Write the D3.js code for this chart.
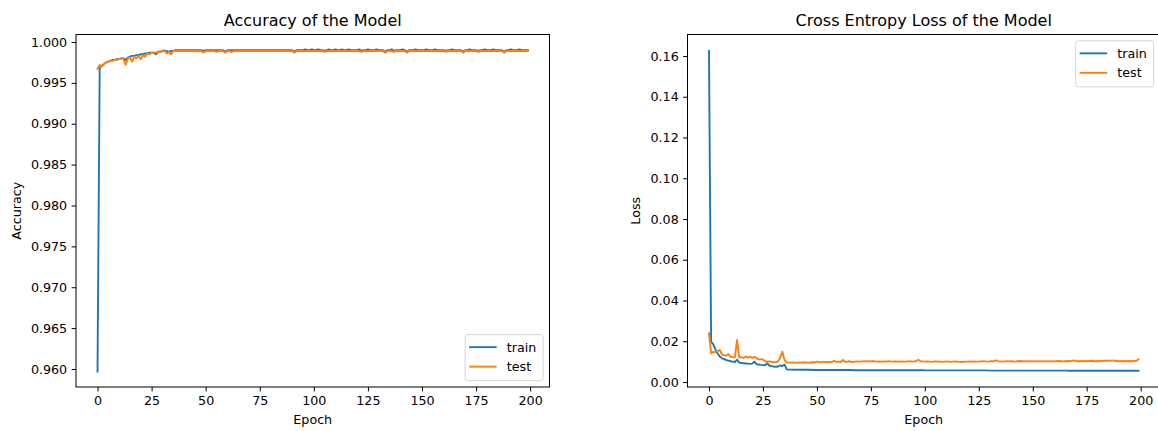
<!DOCTYPE html>
<html>
<head>
<meta charset="utf-8">
<script src="https://cdn.jsdelivr.net/npm/d3@7"></script>
<style>
  body { margin: 0; background: #fff; }
  svg text { font-family: "DejaVu Sans", sans-serif; fill: #000; }
  .axis text { font-size: 12.7px; }
  .axis line { stroke: #000; stroke-width: 1; }
  .axis path.domain { display: none; }
</style>
</head>
<body>
<div id="chart"></div>
<script>
// epochs 0..199 (x)
const epochs = d3.range(200);

// accuracy per epoch
const trainAcc = [
  0.9597, 0.9969, 0.9971, 0.9973, 0.9975, 0.9976, 0.9977, 0.9978, 0.9978, 0.9979,
  0.9979, 0.9980, 0.9980, 0.9978, 0.9981, 0.9982, 0.9983, 0.9983, 0.9984, 0.9984,
  0.9985, 0.9985, 0.9986, 0.9986, 0.9987, 0.9987, 0.9987, 0.9985, 0.9988, 0.9988,
  0.9989, 0.9989, 0.9989, 0.9988, 0.9989, 0.9989, 0.9990, 0.9990, 0.9990, 0.9990,
  0.9990, 0.9990, 0.9990, 0.9990, 0.9990, 0.9990, 0.9990, 0.9990, 0.9990, 0.9989,
  0.9990, 0.9990, 0.9990, 0.9990, 0.9990, 0.9990, 0.9990, 0.9990, 0.9990, 0.9988,
  0.9990, 0.9990, 0.9990, 0.9990, 0.9990, 0.9990, 0.9990, 0.9990, 0.9990, 0.9990,
  0.9990, 0.9990, 0.9990, 0.9990, 0.9990, 0.9990, 0.9990, 0.9990, 0.9990, 0.9990,
  0.9990, 0.9990, 0.9990, 0.9990, 0.9990, 0.9990, 0.9990, 0.9990, 0.9990, 0.9990,
  0.9990, 0.9988, 0.9990, 0.9990, 0.9990, 0.9990, 0.9991, 0.9990, 0.9990, 0.9991,
  0.9990, 0.9990, 0.9991, 0.9990, 0.9990, 0.9989, 0.9990, 0.9991, 0.9990, 0.9990,
  0.9991, 0.9990, 0.9990, 0.9991, 0.9990, 0.9990, 0.9991, 0.9990, 0.9990, 0.9990,
  0.9990, 0.9991, 0.9989, 0.9990, 0.9990, 0.9991, 0.9990, 0.9990, 0.9990, 0.9991,
  0.9990, 0.9990, 0.9990, 0.9988, 0.9990, 0.9990, 0.9991, 0.9989, 0.9990, 0.9990,
  0.9990, 0.9991, 0.9990, 0.9988, 0.9990, 0.9990, 0.9990, 0.9991, 0.9990, 0.9990,
  0.9990, 0.9990, 0.9991, 0.9990, 0.9990, 0.9990, 0.9991, 0.9990, 0.9990, 0.9990,
  0.9990, 0.9989, 0.9990, 0.9990, 0.9991, 0.9990, 0.9990, 0.9990, 0.9990, 0.9988,
  0.9990, 0.9990, 0.9991, 0.9990, 0.9990, 0.9990, 0.9989, 0.9990, 0.9990, 0.9991,
  0.9990, 0.9990, 0.9990, 0.9991, 0.9990, 0.9990, 0.9990, 0.9990, 0.9988, 0.9990,
  0.9990, 0.9991, 0.9990, 0.9990, 0.9990, 0.9991, 0.9990, 0.9990, 0.9990, 0.9990
];
const testAcc = [
  0.9967, 0.9972, 0.9970, 0.9973, 0.9975, 0.9976, 0.9977, 0.9977, 0.9978, 0.9978,
  0.9979, 0.9980, 0.9979, 0.9972, 0.9980, 0.9981, 0.9976, 0.9982, 0.9980, 0.9983,
  0.9979, 0.9984, 0.9982, 0.9986, 0.9985, 0.9987, 0.9987, 0.9987, 0.9988, 0.9988,
  0.9989, 0.9990, 0.9986, 0.9988, 0.9985, 0.9989, 0.9989, 0.9989, 0.9989, 0.9989,
  0.9989, 0.9989, 0.9989, 0.9989, 0.9989, 0.9989, 0.9989, 0.9989, 0.9989, 0.9987,
  0.9989, 0.9989, 0.9989, 0.9989, 0.9989, 0.9988, 0.9989, 0.9989, 0.9989, 0.9987,
  0.9989, 0.9989, 0.9988, 0.9989, 0.9989, 0.9989, 0.9989, 0.9989, 0.9989, 0.9989,
  0.9989, 0.9989, 0.9989, 0.9989, 0.9989, 0.9989, 0.9989, 0.9989, 0.9989, 0.9989,
  0.9989, 0.9989, 0.9989, 0.9989, 0.9989, 0.9989, 0.9989, 0.9989, 0.9989, 0.9989,
  0.9989, 0.9987, 0.9989, 0.9989, 0.9989, 0.9989, 0.9989, 0.9989, 0.9989, 0.9989,
  0.9989, 0.9989, 0.9989, 0.9989, 0.9989, 0.9988, 0.9989, 0.9989, 0.9989, 0.9989,
  0.9989, 0.9989, 0.9989, 0.9989, 0.9989, 0.9989, 0.9989, 0.9989, 0.9989, 0.9989,
  0.9989, 0.9989, 0.9988, 0.9989, 0.9989, 0.9989, 0.9989, 0.9989, 0.9989, 0.9989,
  0.9989, 0.9989, 0.9989, 0.9987, 0.9989, 0.9989, 0.9989, 0.9988, 0.9989, 0.9989,
  0.9989, 0.9989, 0.9989, 0.9987, 0.9989, 0.9989, 0.9989, 0.9989, 0.9989, 0.9989,
  0.9989, 0.9989, 0.9989, 0.9989, 0.9989, 0.9989, 0.9989, 0.9989, 0.9989, 0.9989,
  0.9989, 0.9988, 0.9989, 0.9989, 0.9989, 0.9989, 0.9989, 0.9989, 0.9989, 0.9987,
  0.9989, 0.9989, 0.9989, 0.9989, 0.9989, 0.9989, 0.9988, 0.9989, 0.9989, 0.9989,
  0.9989, 0.9989, 0.9989, 0.9989, 0.9989, 0.9989, 0.9989, 0.9989, 0.9987, 0.9989,
  0.9989, 0.9989, 0.9989, 0.9989, 0.9989, 0.9989, 0.9989, 0.9989, 0.9989, 0.9989
];

// cross entropy loss per epoch
const trainLoss = [
  0.1625, 0.0198, 0.0185, 0.0160, 0.0140, 0.0125, 0.0116, 0.0112, 0.0108, 0.0105,
  0.0102, 0.0100, 0.0098, 0.0110, 0.0095, 0.0093, 0.0092, 0.0091, 0.0090, 0.0089,
  0.0090, 0.0100, 0.0088, 0.0086, 0.0084, 0.0083, 0.0082, 0.0092, 0.0080, 0.0078,
  0.0076, 0.0075, 0.0076, 0.0082, 0.0078, 0.0086, 0.0062, 0.0061, 0.0061, 0.0060,
  0.0060, 0.0060, 0.0060, 0.0060, 0.0060, 0.0060, 0.0060, 0.0060, 0.0059, 0.0059,
  0.0059, 0.0059, 0.0059, 0.0059, 0.0059, 0.0059, 0.0059, 0.0059, 0.0059, 0.0059,
  0.0059, 0.0059, 0.0059, 0.0059, 0.0059, 0.0059, 0.0059, 0.0058, 0.0058, 0.0058,
  0.0058, 0.0058, 0.0058, 0.0058, 0.0058, 0.0058, 0.0058, 0.0058, 0.0058, 0.0058,
  0.0058, 0.0058, 0.0058, 0.0058, 0.0058, 0.0058, 0.0058, 0.0058, 0.0058, 0.0058,
  0.0058, 0.0058, 0.0058, 0.0058, 0.0058, 0.0058, 0.0058, 0.0058, 0.0058, 0.0058,
  0.0057, 0.0057, 0.0057, 0.0057, 0.0057, 0.0057, 0.0057, 0.0057, 0.0057, 0.0057,
  0.0057, 0.0057, 0.0057, 0.0057, 0.0057, 0.0057, 0.0057, 0.0057, 0.0057, 0.0057,
  0.0057, 0.0057, 0.0057, 0.0057, 0.0057, 0.0057, 0.0057, 0.0057, 0.0057, 0.0057,
  0.0056, 0.0056, 0.0056, 0.0056, 0.0056, 0.0056, 0.0056, 0.0056, 0.0056, 0.0056,
  0.0056, 0.0056, 0.0056, 0.0056, 0.0056, 0.0056, 0.0056, 0.0056, 0.0056, 0.0056,
  0.0056, 0.0056, 0.0056, 0.0056, 0.0056, 0.0056, 0.0056, 0.0056, 0.0056, 0.0056,
  0.0056, 0.0056, 0.0056, 0.0056, 0.0056, 0.0056, 0.0056, 0.0055, 0.0055, 0.0055,
  0.0055, 0.0055, 0.0055, 0.0055, 0.0055, 0.0055, 0.0055, 0.0055, 0.0055, 0.0055,
  0.0055, 0.0055, 0.0055, 0.0055, 0.0055, 0.0055, 0.0055, 0.0055, 0.0055, 0.0055,
  0.0055, 0.0055, 0.0055, 0.0055, 0.0055, 0.0055, 0.0055, 0.0055, 0.0055, 0.0055
];
const testLoss = [
  0.0239, 0.0141, 0.0148, 0.0146, 0.0152, 0.0157, 0.0135, 0.0132, 0.0130, 0.0137,
  0.0124, 0.0122, 0.0121, 0.0206, 0.0120, 0.0122, 0.0118, 0.0125, 0.0120, 0.0124,
  0.0118, 0.0123, 0.0117, 0.0111, 0.0112, 0.0110, 0.0102, 0.0100, 0.0101, 0.0099,
  0.0097, 0.0098, 0.0100, 0.0120, 0.0149, 0.0108, 0.0096, 0.0095, 0.0095, 0.0096,
  0.0095, 0.0094, 0.0096, 0.0095, 0.0097, 0.0096, 0.0095, 0.0096, 0.0097, 0.0096,
  0.0100, 0.0098, 0.0097, 0.0099, 0.0098, 0.0097, 0.0099, 0.0098, 0.0104, 0.0099,
  0.0100, 0.0098, 0.0108, 0.0100, 0.0099, 0.0103, 0.0098, 0.0099, 0.0100, 0.0101,
  0.0100, 0.0101, 0.0102, 0.0101, 0.0102, 0.0101, 0.0102, 0.0101, 0.0100, 0.0101,
  0.0100, 0.0101, 0.0100, 0.0102, 0.0101, 0.0100, 0.0101, 0.0100, 0.0101, 0.0100,
  0.0101, 0.0100, 0.0101, 0.0102, 0.0100, 0.0101, 0.0103, 0.0109, 0.0102, 0.0101,
  0.0100, 0.0101, 0.0100, 0.0099, 0.0100, 0.0101, 0.0100, 0.0100, 0.0099, 0.0100,
  0.0101, 0.0100, 0.0099, 0.0100, 0.0101, 0.0100, 0.0099, 0.0098, 0.0099, 0.0100,
  0.0100, 0.0101, 0.0100, 0.0101, 0.0100, 0.0100, 0.0101, 0.0102, 0.0101, 0.0100,
  0.0101, 0.0102, 0.0103, 0.0106, 0.0102, 0.0101, 0.0100, 0.0101, 0.0102, 0.0101,
  0.0102, 0.0101, 0.0100, 0.0102, 0.0103, 0.0102, 0.0101, 0.0102, 0.0101, 0.0102,
  0.0101, 0.0102, 0.0101, 0.0102, 0.0101, 0.0102, 0.0101, 0.0102, 0.0101, 0.0102,
  0.0101, 0.0102, 0.0103, 0.0102, 0.0101, 0.0102, 0.0103, 0.0102, 0.0104, 0.0106,
  0.0103, 0.0102, 0.0103, 0.0102, 0.0103, 0.0102, 0.0103, 0.0104, 0.0103, 0.0102,
  0.0103, 0.0102, 0.0103, 0.0104, 0.0105, 0.0104, 0.0105, 0.0106, 0.0104, 0.0103,
  0.0102, 0.0103, 0.0102, 0.0103, 0.0102, 0.0103, 0.0102, 0.0103, 0.0104, 0.0111
];

const xTicks = [0, 25, 50, 75, 100, 125, 150, 175, 200];
const accTicks = [0.960, 0.965, 0.970, 0.975, 0.980, 0.985, 0.990, 0.995, 1.000];
const lossTicks = [0.00, 0.02, 0.04, 0.06, 0.08, 0.10, 0.12, 0.14, 0.16];
const seriesNames = ['train', 'test'];
const seriesColors = ['#1f77b4', '#ff7f0e'];

const svg = d3.select('#chart').append('svg')
  .attr('width', 1158)
  .attr('height', 431);

function drawPanel(cfg) {
  const x = d3.scaleLinear().domain([-9.95, 208.95]).range([cfg.left, cfg.right]);
  const y = d3.scaleLinear().domain(cfg.yDomain).range([cfg.bottom, cfg.top]);

  const g = svg.append('g');

  // lines
  const line = d3.line()
    .x((d, i) => x(epochs[i]))
    .y(d => y(d));
  cfg.series.forEach((s, i) => {
    g.append('path')
      .datum(s)
      .attr('fill', 'none')
      .attr('stroke', seriesColors[i])
      .attr('stroke-width', 1.9)
      .attr('stroke-linejoin', 'round')
      .attr('stroke-linecap', 'square')
      .attr('d', line);
  });

  // axes
  g.append('g')
    .attr('class', 'axis')
    .attr('transform', `translate(0,${cfg.bottom})`)
    .call(d3.axisBottom(x).tickValues(xTicks).tickSize(4.4).tickPadding(4.4).tickSizeOuter(0).tickFormat(d3.format('d')));
  g.append('g')
    .attr('class', 'axis')
    .attr('transform', `translate(${cfg.left},0)`)
    .call(d3.axisLeft(y).tickValues(cfg.yTicks).tickSize(4.4).tickPadding(4.4).tickSizeOuter(0).tickFormat(d3.format(cfg.yFormat)));

  // frame
  g.append('rect')
    .attr('x', cfg.left).attr('y', cfg.top)
    .attr('width', cfg.right - cfg.left).attr('height', cfg.bottom - cfg.top)
    .attr('fill', 'none').attr('stroke', '#000').attr('stroke-width', 1);

  // titles
  g.append('text')
    .attr('x', (cfg.left + cfg.right) / 2).attr('y', 26)
    .attr('text-anchor', 'middle').style('font-size', '16px')
    .text(cfg.title);
  g.append('text')
    .attr('x', (cfg.left + cfg.right) / 2).attr('y', 423.5)
    .attr('text-anchor', 'middle').style('font-size', '12.7px')
    .text('Epoch');
  g.append('text')
    .attr('transform', `translate(${cfg.yLabelX},${(cfg.top + cfg.bottom) / 2}) rotate(-90)`)
    .attr('text-anchor', 'middle').style('font-size', '12.7px')
    .text(cfg.yLabel);

  // legend
  const lw = 78, lh = 46;
  const lx = cfg.right - 6.35 - lw;
  const ly = cfg.legendPos === 'lower' ? cfg.bottom - 6.35 - lh : cfg.top + 6.35;
  const lg = g.append('g').attr('transform', `translate(${lx},${ly})`);
  lg.append('rect')
    .attr('width', lw).attr('height', lh).attr('rx', 2.5)
    .attr('fill', '#fff').attr('fill-opacity', 0.8)
    .attr('stroke', '#d5d5d5').attr('stroke-width', 1);
  seriesNames.forEach((name, i) => {
    const cy = 12.5 + i * 19.5;
    lg.append('line')
      .attr('x1', 4).attr('x2', 31.5).attr('y1', cy).attr('y2', cy)
      .attr('stroke', seriesColors[i]).attr('stroke-width', 1.9);
    lg.append('text')
      .attr('x', 41.7).attr('y', cy).attr('dy', '0.35em')
      .style('font-size', '12.7px')
      .text(name);
  });
}

drawPanel({
  left: 76, right: 549.5, top: 34.5, bottom: 387,
  yDomain: [0.957798, 1.000917],
  yTicks: accTicks, yFormat: '.3f',
  series: [trainAcc, testAcc],
  title: 'Accuracy of the Model', yLabel: 'Accuracy', yLabelX: 20.5,
  legendPos: 'lower'
});

drawPanel({
  left: 687.5, right: 1160, top: 34.5, bottom: 387,
  yDomain: [-0.00245, 0.17055],
  yTicks: lossTicks, yFormat: '.2f',
  series: [trainLoss, testLoss],
  title: 'Cross Entropy Loss of the Model', yLabel: 'Loss', yLabelX: 640,
  legendPos: 'upper'
});
</script>
</body>
</html>
